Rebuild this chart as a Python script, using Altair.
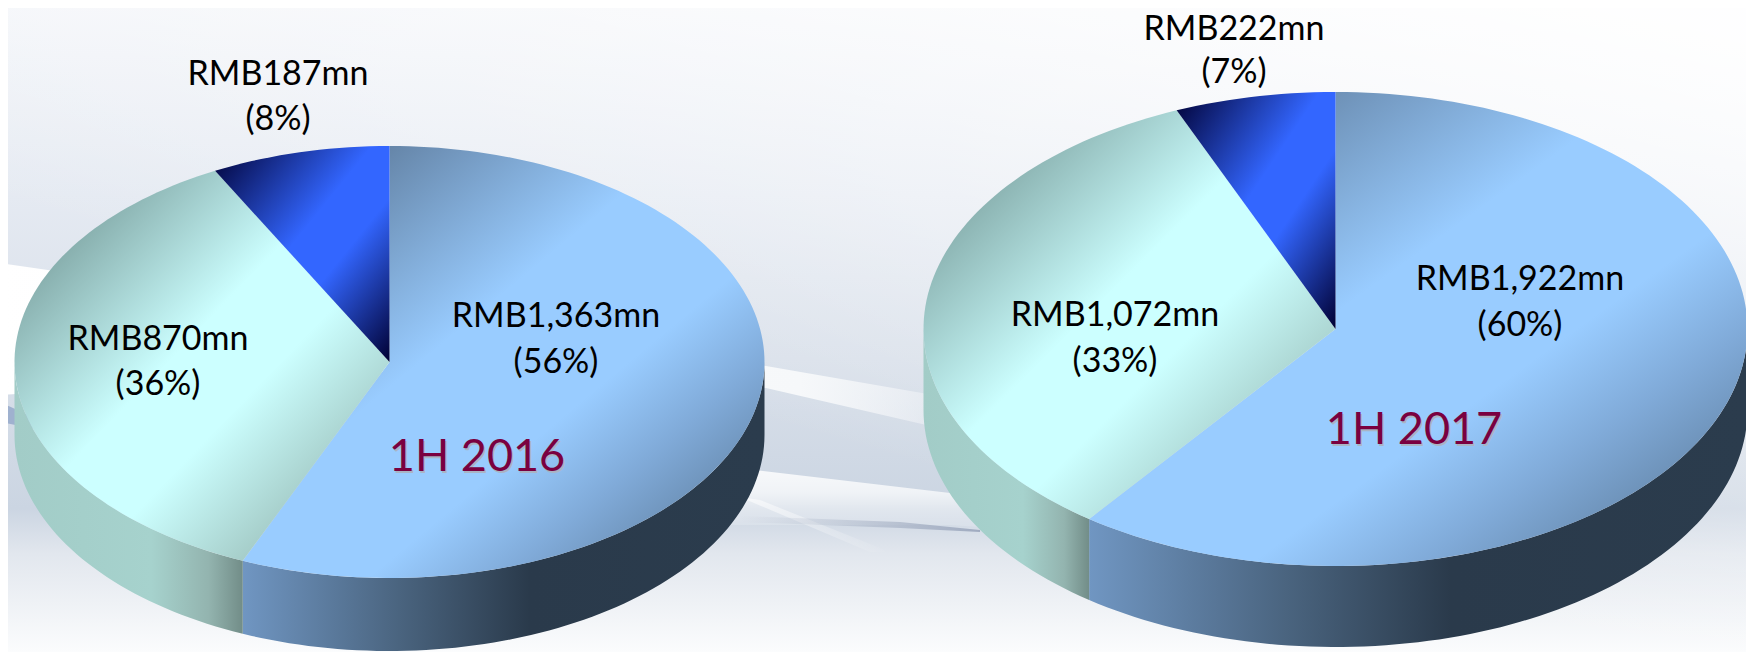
import math
import altair as alt

# ---- values ----
periods = ["1H 2016", "1H 2017"]
labels_large = ["RMB1,363mn", "RMB1,922mn"]
labels_mid = ["RMB870mn", "RMB1,072mn"]
labels_small = ["RMB187mn", "RMB222mn"]
pct_large = ["(56%)", "(60%)"]
pct_mid = ["(36%)", "(33%)"]
pct_small = ["(8%)", "(7%)"]
# slice sizes as they are drawn in the picture (percent of each pie)
drawn_large = [56.4, 60.2]
drawn_mid = [35.9, 33.5]
drawn_small = [7.7, 6.3]

# ---- layout (pixels of the page) ----
W, H = 1754, 652
PIES = [
    dict(cx=389.5, cy=362, rx=375, ry=216, depth=73),
    dict(cx=1335.5, cy=329, rx=412, ry=237, depth=81),
]
LABEL_POS = [
    dict(large=(556, 317, 363), mid=(158, 340, 385), small=(278, 75, 120), title=(477, 457)),
    dict(large=(1520, 280, 326), mid=(1115, 316, 362), small=(1234, 30, 73), title=(1414, 430)),
]


def pt(p, deg, dy=0):
    a = math.radians(deg)
    return [p["cx"] + p["rx"] * math.sin(a), p["cy"] - p["ry"] * math.cos(a) + dy]


def arc(p, a0, a1, dy=0):
    n = max(2, int(abs(a1 - a0) / 1.5))
    return [pt(p, a0 + (a1 - a0) * i / n, dy) for i in range(n + 1)]


def feature(ring):
    return {"type": "Feature", "properties": {},
            "geometry": {"type": "Polygon", "coordinates": [ring + [ring[0]]]}}


def sector(p, a0, a1):
    return feature([[p["cx"], p["cy"]]] + arc(p, a0, a1))


tops = {"large": [], "mid": [], "small": []}
walls = {"large": [], "mid": []}
for i, p in enumerate(PIES):
    total = drawn_large[i] + drawn_mid[i] + drawn_small[i]
    a1 = 360 * drawn_large[i] / total
    a2 = a1 + 360 * drawn_mid[i] / total
    tops["large"].append(sector(p, 0, a1))
    tops["mid"].append(sector(p, a1, a2))
    tops["small"].append(sector(p, a2, 360))
    walls["large"].append(feature(arc(p, 90, a1) + arc(p, a1, 90, p["depth"])))
    walls["mid"].append(feature(arc(p, a1, 270) + arc(p, 270, a1, p["depth"])))


def grad(stops, x1=0, y1=0, x2=1, y2=1):
    return alt.Gradient(gradient="linear", x1=x1, y1=y1, x2=x2, y2=y2,
                        stops=[alt.GradientStop(offset=o, color=c) for o, c in stops])


def shape(features, fill):
    return (alt.Chart(alt.Data(values=features))
            .mark_geoshape(fill=fill, stroke=None, strokeWidth=0)
            .project(type="identity", scale=1, translate=[-8, -8]))


def rect(x0, y0, x1, y1):
    return feature([[x0, y0], [x1, y0], [x1, y1], [x0, y1]])


W0 = "rgba(255,255,255,0)"
W1 = "rgba(255,255,255,0.95)"

# ---- background ----
bg = [
    shape([rect(0, 0, W, H)], grad([(0, "#f3f5f9"), (0.3, "#e5eaf2"), (0.55, "#d9e0ea"),
                                   (0.78, "#cbd5e2"), (0.85, "#e2e7ee"), (1, "#fbfcfd")], 0, 0, 0, 1)),
    shape([rect(0, 0, W, H)], grad([(0, W0), (1, "rgba(255,255,255,0.95)")], 0.5, 0.7, 1, 0.05)),
    shape([feature([[0, 263], [380, 318], [766, 366], [922, 393], [1000, 410], [1000, 440],
                    [922, 424], [766, 388], [380, 372], [0, 395]])],
          grad([(0, "#ffffff"), (0.8, "#f6f8fa"), (1, W0)], 0, 0, 1, 0)),
    shape([feature([[0, 402], [50, 425], [50, 432], [0, 422]])], "#9fb1cf"),
    shape([feature([[600, 450], [763, 471], [950, 493], [1100, 515], [1100, 535], [950, 525],
                    [763, 525], [600, 525]])],
          grad([(0, W1), (0.5, "rgba(255,255,255,0.7)"), (1, W0)], 0, 0, 0, 1)),
    shape([feature([[740, 497], [760, 500], [890, 552], [870, 552]])],
          grad([(0, "rgba(255,255,255,0.6)"), (1, W0)], 0, 0, 1, 0)),
    shape([feature([[740, 516], [900, 522], [980, 530], [980, 532], [900, 528], [740, 522]])],
          grad([(0, "rgba(170,180,198,0)"), (1, "rgba(150,162,185,0.85)")], 0, 0, 1, 0)),
]

# ---- walls and tops ----
pies = [
    shape(walls["large"], grad([(0, "#7096c2"), (0.3, "#4a647f"), (0.55, "#2a3a4b"), (1, "#2b3c4d")], 0, 0, 1, 0)),
    shape(walls["mid"], grad([(0, "#a2ccc7"), (0.6, "#a6d2cd"), (0.85, "#93b4af"), (1, "#728d88")], 0, 0, 1, 0)),
    shape(tops["large"], grad([(0, "#4a6280"), (0.14, "#6585a8"), (0.42, "#99ccff"), (0.62, "#99ccff"),
                               (0.75, "#80aad8"), (0.85, "#6c90b6"), (1, "#55749a")])),
    shape(tops["mid"], grad([(0, "#5f7f7d"), (0.45, "#ccffff"), (0.6, "#ccffff"), (0.85, "#9dc2bd"), (1, "#8aa8a4")])),
    shape(tops["small"], grad([(0, "#000033"), (0.45, "#3366ff"), (0.62, "#3366ff"), (1, "#000033")])),
]

# ---- text ----
rows = []
for i in range(2):
    pos = LABEL_POS[i]
    for key, name, pct in [("large", labels_large[i], pct_large[i]),
                           ("mid", labels_mid[i], pct_mid[i]),
                           ("small", labels_small[i], pct_small[i])]:
        x, y1, y2 = pos[key]
        rows.append({"x": x, "y": y1, "t": name})
        rows.append({"x": x, "y": y2, "t": pct})
title_rows = [{"x": LABEL_POS[i]["title"][0], "y": LABEL_POS[i]["title"][1], "t": periods[i]} for i in range(2)]
shadow_rows = [{"x": r["x"] + 1.5, "y": r["y"] + 1.5, "t": r["t"]} for r in title_rows]


def text(values, size, color):
    return (alt.Chart(alt.Data(values=values))
            .mark_text(font="Lato", fontSize=size, color=color, align="center", baseline="middle")
            .encode(longitude="x:Q", latitude="y:Q", text="t:N")
            .project(type="identity", scale=1, translate=[-8, -8]))


chart = alt.layer(
    *bg, *pies,
    text(rows, 34, "#000000"),
    text(shadow_rows, 45, "#a9b4c4"),
    text(title_rows, 45, "#7a0040"),
).properties(
    width=W - 16, height=H - 8, padding=0,
    autosize=alt.AutoSizeParams(type="none"),
    background="white",
).configure_view(stroke=None)

chart.save("out.html", embed_options={"renderer": "svg", "actions": False})
